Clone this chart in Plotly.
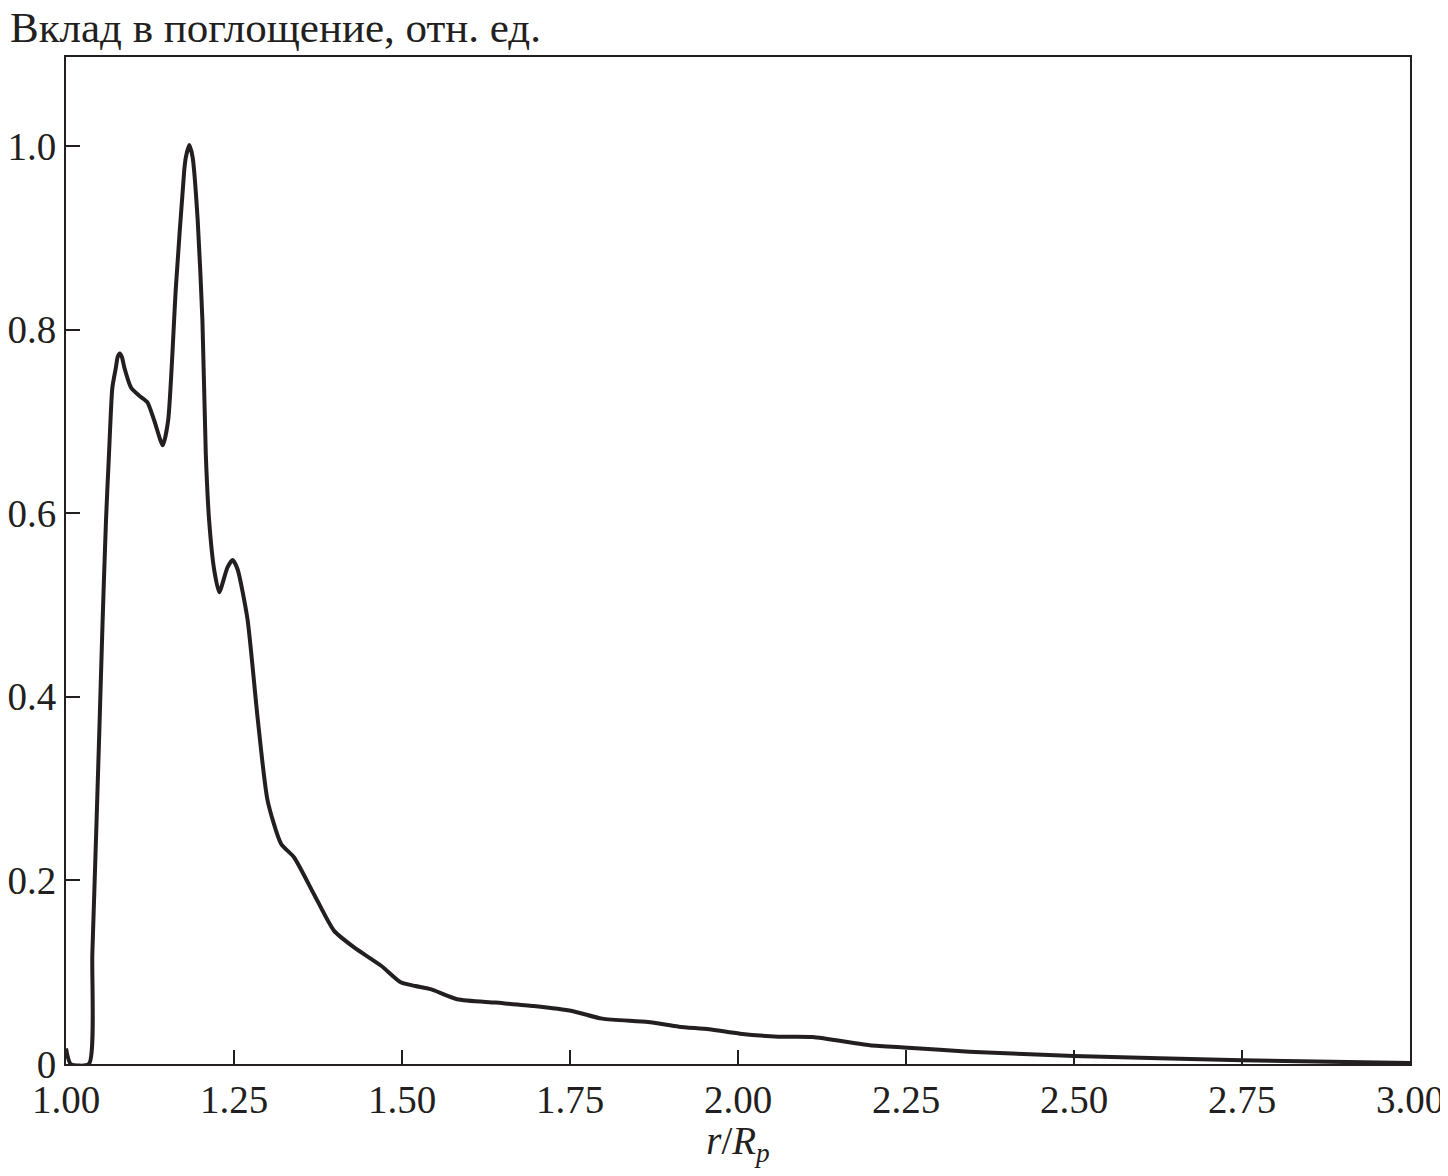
import plotly.graph_objects as go

# r/Rp and relative contribution to absorption
r_rel = [1.000, 1.007, 1.034, 1.0392, 1.0444, 1.0495, 1.0545, 1.0595, 1.064, 1.069, 1.0743,
         1.0768, 1.080, 1.0833, 1.0867, 1.0967, 1.109, 1.121, 1.1313, 1.144, 1.152, 1.1636,
         1.176, 1.1784, 1.1834, 1.1884, 1.196, 1.203, 1.208, 1.213, 1.2206, 1.228, 1.2403,
         1.248, 1.2553, 1.270, 1.285, 1.300, 1.320, 1.3395, 1.369, 1.399, 1.4287, 1.469,
         1.498, 1.520, 1.5426, 1.582, 1.639, 1.696, 1.753, 1.798, 1.866, 1.912, 1.957,
         2.003, 2.060, 2.111, 2.196, 2.253, 2.344, 2.50, 2.75, 3.00]
absorb = [0.017, 0.0, 0.0, 0.12, 0.24, 0.36, 0.483, 0.592, 0.665, 0.737, 0.759,
          0.770, 0.774, 0.770, 0.759, 0.737, 0.728, 0.721, 0.701, 0.674, 0.701, 0.847,
          0.974, 0.988, 1.001, 0.988, 0.919, 0.810, 0.665, 0.592, 0.538, 0.514, 0.541,
          0.549, 0.539, 0.485, 0.378, 0.287, 0.240, 0.225, 0.185, 0.145, 0.127, 0.107,
          0.089, 0.085, 0.0815, 0.0706, 0.0669, 0.0632, 0.0578, 0.0494, 0.0458, 0.0407, 0.0378,
          0.033, 0.0298, 0.0294, 0.0204, 0.0178, 0.0134, 0.0087, 0.004, 0.001]

x_ticks = [1.00, 1.25, 1.50, 1.75, 2.00, 2.25, 2.50, 2.75, 3.00]
y_ticks = [0, 0.2, 0.4, 0.6, 0.8, 1.0]
y_ticktext = ["0", "0.2", "0.4", "0.6", "0.8", "1.0"]

ink = "#231f20"
serif = "Liberation Serif, Times New Roman, serif"
font = dict(family=serif, size=39, color=ink)

fig = go.Figure(go.Scatter(
    x=r_rel, y=absorb, mode="lines",
    line=dict(color=ink, width=4, shape="spline", smoothing=0.6),
    showlegend=False,
))

axis_style = dict(showline=True, linecolor=ink, linewidth=2, mirror=True,
                  ticks="inside", ticklen=14, tickwidth=2, tickcolor=ink,
                  showgrid=False, zeroline=False, tickfont=font, automargin=False)

fig.update_xaxes(range=[1, 3], tickvals=x_ticks, tickformat=".2f",
                 title=dict(text="<i>r</i>/<i>R<sub>p</sub></i>", font=font, standoff=8),
                 **axis_style)
fig.update_yaxes(range=[0, 1.097], tickvals=y_ticks, ticktext=y_ticktext,
                 ticklabelstandoff=0, **axis_style)

fig.add_annotation(text="Вклад в поглощение, отн. ед.", xref="paper", yref="paper",
                   x=-0.043, y=1.0, yshift=4, xanchor="left", yanchor="bottom",
                   showarrow=False, font=dict(family=serif, size=43, color=ink))

# page body adds ~8px offset, so size and margins are trimmed to keep the plot in place
fig.update_layout(
    width=1440, height=1160,
    margin=dict(l=58, r=38, t=49, b=104),
    plot_bgcolor="white", paper_bgcolor="white",
    font=font,
)

fig.write_html("out.html")
